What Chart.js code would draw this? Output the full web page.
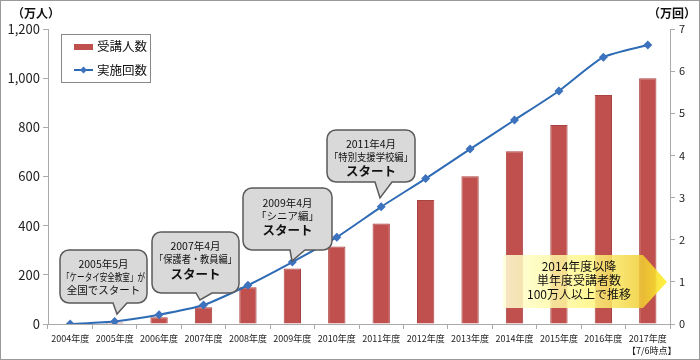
<!DOCTYPE html>
<html lang="ja">
<head>
<meta charset="UTF-8" />
<title>受講人数と実施回数</title>
<script src="https://cdn.jsdelivr.net/npm/chart.js"></script>
<style>
  html, body { margin: 0; padding: 0; background: #fff; }
  #wrap { width: 700px; height: 360px; }
</style>
</head>
<body>
<div id="wrap"><canvas id="chart" width="700" height="360"></canvas></div>
<script>
  // data
  const years = ['2004年度', '2005年度', '2006年度', '2007年度', '2008年度', '2009年度', '2010年度',
                 '2011年度', '2012年度', '2013年度', '2014年度', '2015年度', '2016年度', '2017年度'];
  const attendees = [0, 6, 27, 68, 149, 226, 315, 409, 504, 601, 703, 809, 932, 1000];   // 万人
  const sessions = [0, 0.06, 0.22, 0.45, 0.92, 1.47, 2.06, 2.78, 3.45, 4.15, 4.84, 5.53, 6.33, 6.62]; // 万回
  const leftTicks = [0, 200, 400, 600, 800, 1000, 1200];
  const rightTicks = [0, 1, 2, 3, 4, 5, 6, 7];

  const FONT = "'Noto Sans CJK JP', 'Noto Sans', sans-serif";
  const RED = '#C0504D';
  const BLUE = '#2E6BB5';

  function bubble(ctx, x1, y1, x2, y2, bx1, bx2, tx, ty, lines) {
    const r = 9;
    ctx.save();
    ctx.beginPath();
    ctx.moveTo(x1 + r, y1);
    ctx.lineTo(x2 - r, y1);
    ctx.arcTo(x2, y1, x2, y1 + r, r);
    ctx.lineTo(x2, y2 - r);
    ctx.arcTo(x2, y2, x2 - r, y2, r);
    ctx.lineTo(bx2, y2);
    ctx.lineTo(tx, ty);
    ctx.lineTo(bx1, y2);
    ctx.lineTo(x1 + r, y2);
    ctx.arcTo(x1, y2, x1, y2 - r, r);
    ctx.lineTo(x1, y1 + r);
    ctx.arcTo(x1, y1, x1 + r, y1, r);
    ctx.closePath();
    ctx.fillStyle = '#D9D9D9';
    ctx.fill();
    ctx.lineWidth = 1.5;
    ctx.strokeStyle = '#5A5A5A';
    ctx.stroke();
    ctx.fillStyle = '#111';
    ctx.textAlign = 'center';
    ctx.textBaseline = 'middle';
    const cx = (x1 + x2) / 2;
    lines.forEach(l => {
      ctx.font = (l.bold ? '600 ' : '') + l.size + 'px ' + FONT;
      ctx.fillText(l.t, cx, l.y, x2 - x1 - 4);
    });
    ctx.restore();
  }

  const extras = {
    id: 'extras',
    afterDatasetsDraw(chart) {
      const ctx = chart.ctx;
      bubble(ctx, 60, 250, 147, 303, 113, 127, 117, 314, [
        { t: '2005年5月', y: 264, size: 10.5 },
        { t: '「ケータイ安全教室」が', y: 277, size: 10.5 },
        { t: '全国でスタート', y: 290, size: 10.5 }
      ]);
      bubble(ctx, 152, 232, 239, 293, 196, 212, 200, 300, [
        { t: '2007年4月', y: 246, size: 10.5 },
        { t: '「保護者・教員編」', y: 259, size: 10.5 },
        { t: 'スタート', y: 274, size: 12.5, bold: true }
      ]);
      bubble(ctx, 243, 188, 332, 250, 290, 305, 292, 261, [
        { t: '2009年4月', y: 203, size: 10.5 },
        { t: '「シニア編」', y: 216, size: 10.5 },
        { t: 'スタート', y: 230, size: 12.5, bold: true }
      ]);
      bubble(ctx, 327, 130, 415, 182, 375, 392, 380, 198, [
        { t: '2011年4月', y: 144, size: 10.5 },
        { t: '「特別支援学校編」', y: 157, size: 10.5 },
        { t: 'スタート', y: 171, size: 12.5, bold: true }
      ]);

      // yellow arrow note
      ctx.save();
      const g = ctx.createLinearGradient(503, 0, 667, 0);
      g.addColorStop(0, 'rgba(255,255,215,0.85)');
      g.addColorStop(0.55, 'rgba(255,246,130,0.85)');
      g.addColorStop(0.85, 'rgba(240,205,50,0.85)');
      g.addColorStop(1, 'rgba(255,240,40,0.9)');
      ctx.beginPath();
      ctx.moveTo(503, 255);
      ctx.lineTo(643, 255);
      ctx.lineTo(667, 282);
      ctx.lineTo(643, 308);
      ctx.lineTo(503, 308);
      ctx.closePath();
      ctx.fillStyle = g;
      ctx.fill();
      ctx.fillStyle = '#111';
      ctx.font = '12px ' + FONT;
      ctx.textAlign = 'center';
      ctx.textBaseline = 'middle';
      ctx.fillText('2014年度以降', 579, 266);
      ctx.fillText('単年度受講者数', 579, 280);
      ctx.fillText('100万人以上で推移', 579, 294);
      ctx.restore();
    },
    afterDraw(chart) {
      const ctx = chart.ctx;
      ctx.save();
      // legend box
      ctx.fillStyle = '#fff';
      ctx.fillRect(61, 34, 89, 48);
      ctx.strokeStyle = '#888';
      ctx.lineWidth = 1;
      ctx.strokeRect(61.5, 34.5, 89, 48);
      ctx.fillStyle = RED;
      ctx.fillRect(74, 44, 19, 6);
      ctx.strokeStyle = BLUE;
      ctx.lineWidth = 2;
      ctx.beginPath();
      ctx.moveTo(74, 70);
      ctx.lineTo(93, 70);
      ctx.stroke();
      ctx.fillStyle = '#3C72BE';
      ctx.beginPath();
      ctx.moveTo(83.5, 66.5);
      ctx.lineTo(87, 70);
      ctx.lineTo(83.5, 73.5);
      ctx.lineTo(80, 70);
      ctx.closePath();
      ctx.fill();
      ctx.fillStyle = '#111';
      ctx.font = '12.5px ' + FONT;
      ctx.textBaseline = 'middle';
      ctx.textAlign = 'left';
      ctx.fillText('受講人数', 97, 46);
      ctx.fillText('実施回数', 97, 70);

      // unit labels
      ctx.font = 'bold 12px ' + FONT;
      ctx.fillText('（万人）', 12, 13);
      ctx.textAlign = 'right';
      ctx.fillText('（万回）', 696, 13);

      // footnote under the last category
      const x = chart.scales.x.getPixelForValue(years.length - 1);
      ctx.font = '9px ' + FONT;
      ctx.textAlign = 'center';
      ctx.fillStyle = '#222';
      ctx.fillText('【7/6時点】', x + 4, 351);

      // outer frame
      ctx.strokeStyle = '#9A9A9A';
      ctx.lineWidth = 1;
      ctx.strokeRect(0.5, 0.5, 699, 359);
      ctx.restore();
    }
  };

  const ctx = document.getElementById('chart').getContext('2d');
  new Chart(ctx, {
    type: 'bar',
    data: {
      labels: years,
      datasets: [
        {
          type: 'line',
          label: '実施回数',
          data: sessions,
          yAxisID: 'y1',
          borderColor: BLUE,
          borderWidth: 2,
          backgroundColor: '#3C72BE',
          pointStyle: 'rectRot',
          pointRadius: 4.5,
          pointBorderWidth: 0,
          pointBackgroundColor: '#3C72BE',
          tension: 0.2,
          order: 0
        },
        {
          type: 'bar',
          label: '受講人数',
          data: attendees,
          yAxisID: 'y',
          backgroundColor: RED,
          borderColor: '#A94340',
          borderWidth: 1,
          barPercentage: 0.39,
          categoryPercentage: 1,
          order: 1
        }
      ]
    },
    options: {
      responsive: false,
      animation: false,
      layout: { padding: { top: 29, left: 0, right: 0, bottom: 0 } },
      plugins: {
        legend: { display: false },
        tooltip: { enabled: false }
      },
      scales: {
        x: {
          offset: true,
          grid: { offset: true, drawOnChartArea: false, color: '#AAA', tickLength: 5 },
          border: { color: '#AAA' },
          ticks: { font: { family: FONT, size: 9 }, color: '#222', padding: 4, maxRotation: 0, autoSkip: false },
          afterFit: s => { s.height = 36; }
        },
        y: {
          position: 'left',
          min: 0,
          max: 1200,
          afterBuildTicks: s => { s.ticks = leftTicks.map(v => ({ value: v })); },
          grid: { drawOnChartArea: false, color: '#AAA', tickLength: 5 },
          border: { color: '#AAA' },
          ticks: {
            font: { family: FONT, size: 13 },
            color: '#222',
            padding: 3,
            callback: v => v.toLocaleString('en-US')
          },
          afterFit: s => { s.width = 48; }
        },
        y1: {
          position: 'right',
          min: 0,
          max: 7,
          afterBuildTicks: s => { s.ticks = rightTicks.map(v => ({ value: v })); },
          grid: { drawOnChartArea: false, color: '#AAA', tickLength: 5 },
          border: { color: '#AAA' },
          ticks: { font: { family: FONT, size: 11 }, color: '#222', padding: 4 },
          afterFit: s => { s.width = 30; }
        }
      }
    },
    plugins: [extras]
  });
</script>
</body>
</html>
